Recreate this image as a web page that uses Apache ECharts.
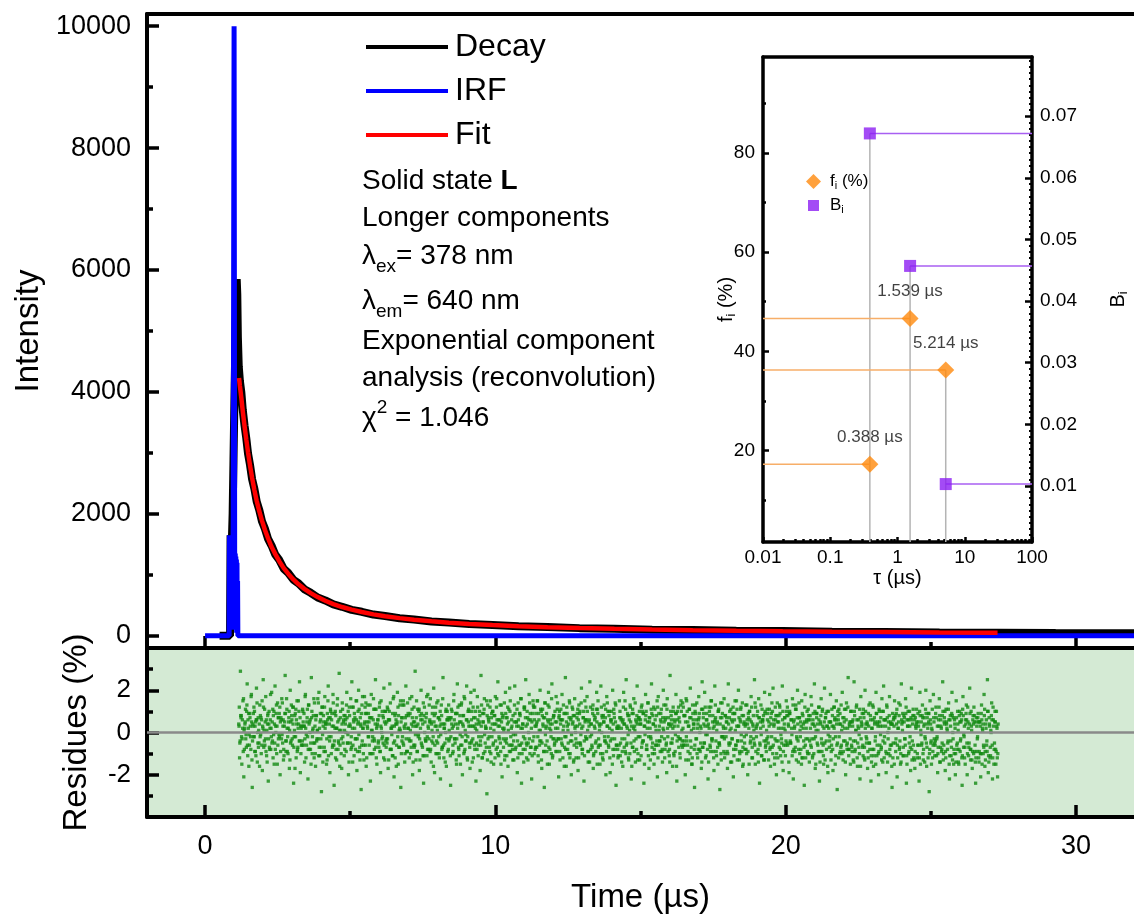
<!DOCTYPE html>
<html><head><meta charset="utf-8">
<script src="https://cdn.jsdelivr.net/npm/echarts@6/dist/echarts.min.js"></script>
<style>html,body{margin:0;padding:0;background:#fff}#c{width:1134px;height:917px}</style>
</head><body><div id="c"></div>
<script>
const FONT = 'Liberation Sans, Arial, Helvetica, sans-serif';

// ---------- main panel data ----------
const xMajorTicks = [0, 10, 20, 30];
const xMinorTicks = [5, 15, 25];
const intensityTicks = [0, 2000, 4000, 6000, 8000, 10000];
const intensityMinorTicks = [1000, 3000, 5000, 7000, 9000];
const residueTicks = [-2, 0, 2];
const residueMinorTicks = [-3, -1, 1, 3];

const irfTime  = [0, 0.83, 0.84, 0.85, 0.86, 0.87, 0.88, 0.89, 0.9, 0.91, 0.92, 0.93, 0.94, 0.95, 0.96, 0.97, 0.98, 0.99, 1.0, 1.01, 1.02, 1.03, 1.04, 1.05, 1.06, 1.07, 1.08, 1.09, 1.1, 1.11, 1.12, 1.13, 1.14, 32.5];
const irfValue = [0, 0, 1650, 200, 1600, 100, 1450, 300, 1500, 150, 1400, 250, 1450, 100, 1400, 2000, 4500, 7500, 10000, 6000, 1400, 200, 1350, 150, 1300, 100, 1250, 50, 1200, 100, 900, 0, 0, 0];

const decayTime  = [0.5, 0.86, 0.88, 0.9, 0.92, 0.95, 0.98, 1.02, 1.06, 1.09, 1.11, 1.13, 1.16, 1.2, 1.25, 1.3, 1.36, 1.42, 1.48, 1.55, 1.62, 1.7, 1.78, 1.87, 1.96, 2.06, 2.17, 2.29, 2.42, 2.56, 2.71, 2.87, 3.04, 3.22, 3.42, 3.64, 3.88, 4.14, 4.42, 4.72, 5.05, 5.4, 5.8, 6.2, 6.7, 7.2, 7.8, 8.4, 9.1, 9.9, 10.8, 11.8, 12.9, 14.1, 15.4, 16.8, 18.3, 19.9, 21.6, 23.4, 25.3, 27.3, 29.3, 31.3, 32.5];
const decayValue = [0, 0, 1650, 900, 1500, 2000, 2900, 4100, 5200, 5850, 5600, 4900, 4420, 4180, 3990, 3700, 3450, 3240, 2990, 2800, 2570, 2410, 2200, 2060, 1880, 1760, 1590, 1480, 1330, 1240, 1100, 1030, 920, 860, 765, 705, 628, 580, 515, 476, 426, 394, 348, 324, 288, 266, 234, 218, 193, 178, 156, 144, 126, 116, 101, 94, 82, 77, 67, 63, 55, 52, 46, 44, 41];

const fitTime  = [1.17, 1.2, 1.25, 1.3, 1.36, 1.42, 1.48, 1.55, 1.62, 1.7, 1.78, 1.87, 1.96, 2.06, 2.17, 2.29, 2.42, 2.56, 2.71, 2.87, 3.04, 3.22, 3.42, 3.64, 3.88, 4.14, 4.42, 4.72, 5.05, 5.4, 5.8, 6.2, 6.7, 7.2, 7.8, 8.4, 9.1, 9.9, 10.8, 11.8, 12.9, 14.1, 15.4, 16.8, 18.3, 19.9, 21.6, 23.4, 25.3, 27.3];
const fitValue = [4230, 4100, 3900, 3680, 3440, 3220, 3010, 2790, 2590, 2390, 2210, 2040, 1890, 1740, 1600, 1460, 1340, 1220, 1110, 1015, 925, 845, 770, 700, 635, 575, 520, 472, 430, 390, 352, 320, 290, 262, 237, 215, 195, 176, 158, 142, 127, 114, 102, 92, 83, 75, 68, 62, 56, 51];

// weighted residues: three interleaved channel sets spanning the fitted range
const residueStart = 1.16;
const residueEnd = 27.3;
const residuesA = [
0.4,-1.2,2.9,0.8,-0.3,1.5,-2.1,0.2,1.1,-0.7,2.3,0.6,-1.6,0.9,-0.2,1.8,-2.6,0.3,1.2,-0.9,0.5,2.1,-1.4,0.7,-0.5,
1.3,-0.1,0.6,-1.8,2.5,0.1,-0.6,1.7,-1.1,0.4,-2.3,1.0,0.2,-0.8,1.9,-0.4,0.8,-1.5,2.2,0.0,-1.0,1.4,-0.3,0.9,-2.0,
0.7,1.6,-0.5,-1.3,0.3,2.7,-0.9,1.1,-0.2,0.5,-1.7,2.0,-0.4,0.6,1.2,-2.4,0.1,0.9,-1.2,1.5,-0.7,0.4,2.4,-1.9,0.2,
-0.6,1.0,0.3,-1.4,1.8,-0.1,0.7,-2.2,1.3,0.5,-0.8,2.6,-1.0,0.2,1.6,-0.5,-1.6,0.8,0.1,-0.3,1.9,-1.1,0.6,-2.8,1.2,
0.3,-0.9,1.7,0.4,-1.5,0.9,2.2,-0.2,-1.9,1.0,0.6,-0.7,1.4,-2.5,0.2,0.8,-1.3,1.6,-0.4,2.8,-0.6,0.1,-1.7,1.1,0.5,
-1.1,0.8,0.0,1.9,-0.5,-2.0,1.2,0.3,-0.8,2.4,-1.4,0.6,0.9,-0.3,1.5,-1.8,0.4,2.0,-0.9,0.7,-2.7,1.3,0.2,-0.6,1.7,
0.9,-1.6,0.5,1.3,-0.2,0.7,-2.3,1.8,0.1,-1.0,1.1,-0.4,2.5,-1.2,0.3,0.6,-0.7,1.4,-1.9,0.2,1.0,-0.5,2.1,-1.3,0.4,
-0.3,1.2,-1.7,0.6,2.3,-0.8,0.2,-1.1,1.6,-2.1,0.8,0.4,-0.6,1.9,-1.5,0.1,1.3,-2.6,0.7,-0.2,1.5,0.3,-1.0,2.2,-0.9,
1.4,0.2,-1.2,0.9,-0.4,1.7,-2.0,0.5,-0.7,2.9,-1.3,0.3,1.1,-0.1,-1.8,0.8,2.0,-0.6,0.4,-2.4,1.2,-0.3,0.7,-1.1,1.8,
-0.8,0.5,1.6,-1.4,0.1,-0.5,2.1,-1.9,0.9,0.3,-1.0,1.5,-0.2,0.6,-2.2,1.3,-0.7,2.6,-1.2,0.4,0.0,-1.6,1.0,0.7,-0.4,
0.6,-2.5,1.1,0.2,-0.9,1.8,-0.3,0.9,-1.5,2.3,0.4,-1.1,0.8,-0.6,1.4,-2.0,0.3,1.7,-0.8,-0.1,2.2,-1.3,0.5,1.0,-1.7,
1.9,-0.4,0.3,-1.2,2.0,0.7,-2.3,0.1,1.2,-0.6,0.5,-1.8,2.7,-0.2,0.9,-1.0,1.6,-0.5,0.2,-2.9,1.3,0.6,-0.7,1.5,-1.4,
-0.2,1.0,-1.5,0.4,1.7,-0.8,0.6,2.4,-1.1,0.3,-0.5,1.3,-2.1,0.8,0.1,-1.3,1.9,-0.3,0.7,-1.6,1.1,2.1,-0.9,0.2,-0.6,
0.8,-1.3,2.2,-0.1,0.5,-1.9,1.4,-0.6,0.9,1.6,-2.4,0.2,-0.8,1.2,-0.3,2.5,-1.2,0.4,-0.5,1.8,-1.0,0.6,-2.2,0.9,1.3,
-1.0,0.3,0.9,-0.7,1.5,-1.4,0.1,2.0,-0.4,-1.7,1.1,0.7,-2.6,1.4,0.2,-0.9,0.6,1.9,-1.5,0.4,-0.2,2.3,-1.1,0.8,-0.6,
0.5,1.7,-0.9,0.2,-2.1,1.0,0.6,-0.3,1.8,-1.2,0.3,-0.7,2.6,-1.6,0.9,0.1,-1.0,1.4,-0.4,-2.0,1.2,0.5,-1.3,1.6,0.0,
-0.5,0.9,-1.8,1.3,0.4,-0.6,2.1,-1.0,0.7,-2.3,1.5,-0.2,0.6,1.0,-1.4,0.3,2.4,-0.8,-0.1,1.1,-1.7,0.8,0.2,-0.9,1.9,
1.1,-0.7,0.4,-1.5,2.2,0.0,-1.2,0.8,1.3,-0.4,-2.0,1.7,0.3,-0.6,1.0,-1.9,0.5,-0.3,2.0,-1.1,0.7,1.4,-2.5,0.2,-0.8,
0.2,1.5,-1.1,0.6,-0.3,-1.6,1.9,0.4,-0.9,2.5,-0.5,0.8,-1.3,0.1,1.2,-2.2,0.9,-0.7,1.6,0.3,-1.4,0.5,2.2,-1.0,0.6,
-1.3,0.6,1.2,-0.5,0.9,-2.4,0.3,1.8,-0.8,0.2,1.4,-1.7,0.7,-0.2,2.3,-1.0,0.4,-1.5,1.1,-0.6,0.8,-2.1,1.7,0.1,-0.4,
0.9,-0.2,-1.4,2.0,0.5,-0.8,1.3,-1.9,0.2,0.7,-1.1,2.7,-0.5,0.4,-1.6,1.0,0.3,-0.9,1.8,-2.3,0.6,1.2,-0.3,-1.2,1.5,
0.1,1.4,-0.6,0.8,-2.0,1.6,-0.4,0.5,-1.3,1.1,2.1,-0.7,-1.5,0.9,0.2,-2.6,1.3,0.6,-1.0,0.4,1.7,-0.8,0.3,-1.7,2.4,
-0.7,0.4,1.9,-1.2,0.6,-0.1,-2.2,1.2,0.8,-0.9,1.5,-0.3,0.2,-1.8,2.2,0.7,-1.1,0.5,1.0,-0.5,-2.7,1.4,-0.2,0.9,0.3,
1.6,-1.0,0.2,0.7,-1.7,2.3,-0.6,0.1,1.1,-1.4,0.5,-2.1,0.9,1.5,-0.8,0.3,-0.4,2.0,-1.3,0.6,1.2,-0.9,-1.6,0.8,-0.2,
0.3,-0.8,1.3,-2.0,0.7,1.0,-0.5,1.7,-1.2,0.4,-0.3,2.5,-1.5,0.2,0.8,-1.0,1.6,-2.4,0.5,-0.1,1.1,0.6,-1.3,1.9,-0.7,
-0.9,1.1,-0.2,0.5,1.8,-1.6,0.9,-0.7,2.1,0.3,-1.2,0.6,-2.0,1.4,-0.4,0.8,1.2,-1.1,-0.3,2.2,-1.8,0.2,0.7,-0.6,1.0,
1.2,0.4,-1.9,0.9,-0.5,0.2,1.6,-2.2,0.6,-0.9,1.3,-0.2,2.0,-1.4,0.7,0.1,-0.8,1.5,-1.2,0.4,-2.5,1.8,-0.3,0.5,-1.0,
0.6,-1.4,0.8,1.7,-0.3,-1.1,0.4,2.3,-1.7,0.1,0.9,-0.6,1.2,-2.3,0.5,1.6,-0.9,0.3,-1.5,2.1,0.7,-0.4,1.0,-1.9,0.2,
-0.4,1.8,-0.9,0.3,-1.8,1.2,0.6,-0.2,1.5,-2.7,0.8,1.1,-1.0,0.4,-0.6,1.9,-1.3,0.7,0.2,-2.0,1.4,-0.5,2.6,-0.8,0.5,
1.0,-0.6,0.5,-1.3,2.4,-0.9,0.1,1.3,-1.6,0.6,-0.1,-2.2,1.7,0.3,-0.7,1.1,-1.2,2.0,0.4,-0.3,-1.7,0.9,-0.5,1.4,-2.3,
0.2,1.3,-1.6,0.7,-0.4,1.9,-1.1,0.5,-2.0,1.0,0.3,-0.8,1.6,-1.4,2.2,-0.2,0.6,-1.9,1.2,0.0,-1.0,1.7,-0.6,0.4,-2.6,
-1.2,0.7,1.5,-0.5,0.9,-2.1,0.2,1.4,-0.7,-1.5,2.3,0.5,-1.1,0.8,-0.3,1.6,-2.4,0.6,1.0,-0.9,0.3,-1.8,2.1,-0.4,1.1,
0.8,-1.7,0.3,1.1,-1.0,0.5,-2.3,1.9,0.1,-0.6,1.3,-1.3,0.7,-0.2,2.0,-1.6,0.4,0.9,-2.8,1.5,-0.5,0.2,-1.2,1.8,-0.3,
-0.6,1.2,-0.3,-1.9,0.6,1.6,-1.4,0.3,-0.8,2.4,-1.0,0.7,-1.8,1.1,0.2,-0.5,1.4,-2.2,0.8,-1.1,1.9,0.0,-1.5,0.6,-2.0,
1.5,-0.8,0.4,-1.5,1.0,-0.4,0.9,-2.5,1.7,-0.1,-1.2,0.6,1.3,-2.0,0.5,-0.7,2.1,-1.3,0.3,-1.7,0.8,1.2,-0.9,-2.4,0.7,
-0.3,0.9,-1.4,0.5,-2.1,1.3,0.2,-1.0,1.8,-1.6,0.4,-0.6,2.5,-1.9,0.7,-1.2,0.1,1.4,-2.2,0.6,-0.8,1.0,-1.5,0.3,-2.1
];
const residuesB = [
0.3,-0.5,0.8,-0.2,0.6,-0.9,0.1,0.4,-0.3,1.0,-0.6,0.2,-0.1,0.7,-0.8,0.5,-0.4,0.9,-0.2,0.3,-1.1,0.6,0.0,-0.7,0.4,
-0.2,0.7,-0.6,0.3,1.2,-0.4,0.5,-0.9,0.1,0.8,-0.3,-0.7,0.6,0.2,-0.5,1.1,-0.1,0.4,-0.8,0.9,0.3,-0.6,0.7,-0.2,0.5,
0.6,-0.1,0.3,-0.8,0.5,0.9,-0.4,0.2,-1.0,0.7,0.1,-0.5,1.3,-0.3,0.4,-0.7,0.8,-0.2,0.6,-0.9,0.2,1.0,-0.4,0.3,-0.6,
-0.4,0.5,0.9,-0.3,0.2,-0.6,1.1,-0.8,0.4,0.0,-0.5,0.7,-0.2,0.8,-1.2,0.3,0.6,-0.4,0.1,1.4,-0.7,0.5,-0.3,0.9,-0.1,
0.8,-0.7,0.2,0.5,-0.3,0.6,-1.1,0.4,0.7,-0.2,0.9,-0.6,0.3,-0.4,1.0,-0.8,0.2,0.5,-0.5,0.1,0.7,-1.0,0.4,-0.2,0.6,
0.1,0.4,-0.9,0.7,-0.1,0.3,0.8,-0.5,-0.2,1.2,-0.6,0.5,0.2,-0.8,0.6,-0.3,1.0,-0.1,-0.7,0.4,0.9,-0.4,0.2,-1.3,0.5,
-0.6,0.9,0.3,-0.2,0.5,-1.0,0.7,0.1,-0.4,0.6,-0.3,1.1,-0.7,0.2,0.4,-0.5,0.8,-0.9,0.3,0.0,-0.2,0.7,-0.6,1.0,-0.4,
0.5,-0.3,0.6,1.0,-0.8,0.2,-0.1,0.9,-0.5,0.3,-1.2,0.6,0.4,-0.2,0.8,-0.7,0.1,0.5,-0.4,1.3,-0.6,0.2,0.7,-0.3,-0.9,
0.2,0.8,-0.4,0.1,-0.7,1.1,0.3,-0.6,0.5,-0.1,0.7,-0.9,0.4,1.0,-0.3,0.2,-0.5,0.6,-1.1,0.8,0.0,-0.4,0.9,-0.2,0.3,
-0.3,0.6,-0.8,0.4,0.9,-0.2,0.5,-0.6,1.2,-0.4,0.1,0.7,-1.0,0.3,-0.1,0.8,-0.7,0.4,0.2,-0.5,1.0,-0.3,0.6,-0.8,0.1,
0.7,-0.2,0.4,-1.0,0.3,0.6,-0.5,0.9,-0.3,0.2,-0.7,1.3,-0.1,0.5,-0.6,0.4,0.8,-0.9,0.1,-0.4,0.6,-0.2,1.1,-0.5,0.3,
-0.5,1.0,-0.3,0.7,-0.6,0.2,0.4,-0.8,0.6,-0.2,1.0,-0.4,0.3,-1.2,0.5,0.9,-0.1,0.3,-0.7,0.8,-0.3,0.5,-0.9,0.2,0.7,
0.4,-0.6,0.1,0.8,-0.4,1.2,-0.7,0.3,-0.2,0.6,-0.9,0.5,0.7,-0.3,0.2,-1.1,0.9,-0.5,0.4,0.1,-0.6,1.0,-0.2,0.6,-0.8,
-0.1,0.5,0.9,-0.7,0.3,-0.4,0.6,-1.0,0.8,0.2,-0.5,0.4,-0.2,1.1,-0.8,0.3,-0.6,0.7,0.0,-0.3,0.9,-0.7,0.5,-0.4,1.2,
0.6,-0.8,0.3,0.5,-0.2,0.9,-0.6,0.1,1.0,-0.5,0.4,-0.9,0.7,-0.1,0.3,-0.4,1.3,-0.7,0.2,0.6,-1.0,0.4,-0.3,0.8,-0.5,
0.2,-0.4,1.1,-0.3,0.7,-0.9,0.4,0.6,-0.6,0.1,0.9,-0.2,-0.8,0.5,0.3,-0.5,0.7,-1.2,0.6,-0.1,0.4,0.8,-0.6,0.2,-0.3,
-0.7,0.3,0.6,-0.5,1.0,-0.1,0.2,-0.8,0.7,-0.4,0.5,1.2,-0.3,0.1,-0.9,0.6,-0.2,0.4,-0.6,0.9,-1.1,0.3,0.7,-0.4,0.5,
0.9,-0.3,0.1,-0.6,0.4,0.8,-1.0,0.5,-0.2,0.7,-0.5,0.3,1.0,-0.7,0.2,-0.4,0.6,0.1,-0.8,1.1,-0.3,0.5,-0.6,0.3,-1.2,
0.3,0.7,-0.5,0.2,-0.9,0.6,0.4,-0.3,1.1,-0.6,0.2,-0.1,0.8,-1.0,0.5,0.3,-0.7,0.9,-0.4,0.1,0.6,-0.8,0.4,-0.2,0.7,
-0.2,0.4,-0.7,1.0,-0.4,0.3,-0.1,0.8,-0.6,0.5,-1.1,0.7,0.2,-0.3,0.9,-0.5,0.4,-0.8,0.6,0.1,-0.4,1.2,-0.6,0.3,-0.9,
0.5,-0.9,0.7,0.1,-0.3,0.6,-0.6,1.1,-0.2,0.4,-0.8,0.3,0.8,-0.5,0.2,-1.0,0.6,-0.1,0.9,-0.4,0.3,-0.7,0.5,-0.3,1.0,
-0.4,0.2,0.8,-0.6,0.5,-0.2,1.0,-0.9,0.3,0.7,-0.4,0.1,-1.2,0.6,0.4,-0.6,0.9,-0.3,0.2,-0.8,0.7,0.0,-0.5,1.1,-0.7,
0.7,-0.5,0.3,-0.1,0.9,-0.8,0.4,0.2,-0.6,1.2,-0.3,0.5,-0.9,0.3,0.6,-0.4,0.1,-0.7,1.0,-0.5,0.4,-1.0,0.7,-0.2,0.2,
-0.3,0.8,-0.2,0.5,-1.0,0.4,0.7,-0.5,0.2,-0.3,0.9,-0.8,0.6,0.1,-0.6,1.1,-0.4,0.3,-0.9,0.5,-0.1,0.8,-0.7,0.4,-0.5,
0.4,-0.1,0.6,-0.9,0.2,1.0,-0.4,0.5,-0.7,0.3,0.1,-0.6,1.2,-0.2,0.4,-0.8,0.7,-0.5,0.2,-1.1,0.6,0.3,-0.4,0.9,-0.6,
0.1,0.6,-0.5,0.3,-0.8,0.7,-0.2,1.0,-0.6,0.4,-0.3,0.8,-1.0,0.5,0.2,-0.7,0.9,-0.1,-0.5,0.6,-0.9,0.4,0.1,-0.4,0.8,
-0.6,0.3,0.9,-0.4,0.6,-0.1,-0.9,0.5,0.2,-0.7,1.1,-0.3,0.4,-0.8,0.7,-0.2,0.3,-1.2,0.8,-0.4,0.5,-0.6,0.2,1.0,-0.3,
0.8,-0.4,0.2,-0.7,0.4,0.6,-1.0,0.3,-0.2,0.9,-0.5,0.1,0.6,-0.9,0.4,-0.3,1.0,-0.6,0.2,-0.5,0.7,-0.8,0.3,-0.1,0.5,
-0.2,0.5,-0.6,0.8,-0.3,0.2,0.7,-1.1,0.4,-0.5,0.6,-0.2,0.9,-0.7,0.1,0.3,-0.9,0.5,-0.4,1.1,-0.6,0.2,-0.8,0.4,-0.3,
0.5,-0.7,0.3,-0.4,1.0,-0.8,0.1,0.6,-0.5,0.2,-1.0,0.7,-0.3,0.4,-0.6,0.9,-0.7,0.2,-0.2,0.5,-0.9,0.3,-0.5,0.8,-1.1,
0.2,0.6,-0.8,0.4,-0.2,0.9,-0.6,0.3,-0.9,0.5,-0.1,-0.7,1.0,-0.4,0.6,-0.5,0.3,-1.0,0.7,-0.3,0.2,-0.8,0.5,-0.6,0.4,
-0.5,0.3,0.7,-0.9,0.4,-0.6,0.2,0.8,-0.4,-1.0,0.6,0.1,-0.7,0.5,-0.3,0.9,-1.1,0.3,0.6,-0.5,-0.2,0.7,-0.8,0.4,-0.6,
0.6,-0.9,0.2,0.5,-0.6,0.3,-1.2,0.8,-0.1,-0.5,0.7,-0.8,0.4,-0.3,0.9,-0.7,0.2,0.5,-1.0,0.6,-0.4,0.1,-0.9,0.7,-0.5,
-0.4,0.7,-0.2,-1.0,0.3,0.8,-0.7,0.2,-0.5,1.0,-0.6,0.4,-0.9,0.5,0.1,-0.4,0.6,-1.1,0.3,-0.7,0.8,-0.3,-0.8,0.4,-1.0,
0.7,-0.5,0.1,-0.8,0.5,-0.3,0.6,-1.1,0.8,-0.2,-0.7,0.4,0.6,-1.0,0.2,-0.5,0.9,-0.8,0.1,-0.9,0.4,0.5,-0.6,-1.2,0.3,
-0.2,0.5,-0.9,0.3,-1.0,0.6,0.1,-0.6,0.8,-0.9,0.2,-0.4,1.0,-1.1,0.4,-0.7,0.0,0.6,-1.2,0.3,-0.5,0.5,-0.9,0.2,-1.0
];
const residuesC = [
1.2,-0.4,0.7,-1.5,0.2,1.6,-0.8,0.5,-0.1,1.3,-1.1,0.9,-0.6,0.3,1.7,-1.3,0.4,-0.2,1.0,-0.9,0.6,1.4,-0.5,0.1,-1.6,
0.8,-1.0,1.5,0.2,-0.7,1.1,-0.3,0.6,-1.4,0.9,0.4,-0.8,1.8,-0.2,0.5,-1.2,1.0,-0.5,0.3,1.3,-1.5,0.7,-0.1,1.2,-0.9,
-0.3,1.4,0.6,-1.1,0.9,-0.4,1.6,-0.9,0.2,1.0,-1.3,0.5,0.8,-0.6,1.2,-0.2,-1.7,1.1,0.4,-0.8,1.5,-0.4,0.7,-1.0,0.3,
1.1,-0.6,0.3,1.7,-1.2,0.5,-0.2,1.3,-0.8,0.6,-1.5,1.0,0.1,-0.5,1.4,-1.0,0.8,-0.3,1.6,-1.1,0.2,0.9,-0.7,1.2,-1.4,
0.5,1.2,-0.9,0.4,-1.3,1.5,0.7,-0.4,1.1,-1.0,0.3,1.8,-0.6,0.9,-1.2,0.2,1.3,-0.8,0.6,-1.6,1.0,-0.3,1.4,-0.5,0.8,
-0.8,0.6,1.3,-0.5,1.0,-1.4,0.4,1.6,-0.7,0.2,1.2,-1.1,0.7,-0.3,1.5,-0.9,0.5,1.1,-1.3,0.3,-0.6,1.7,-1.0,0.4,1.2,
1.4,-1.2,0.2,0.9,-0.6,1.3,-1.0,0.7,-0.2,1.6,-0.8,0.4,1.1,-1.5,0.6,-0.4,1.2,-0.9,1.5,-0.3,0.8,-1.2,0.5,1.0,-0.7,
-0.5,1.1,-1.3,0.6,1.4,-0.8,0.3,-1.1,1.7,-0.4,0.9,-1.6,0.5,1.2,-0.7,0.2,1.5,-1.0,0.7,-0.5,1.3,-1.4,0.4,0.8,-0.9,
0.9,-0.3,1.6,-1.0,0.4,0.7,-1.4,1.2,-0.6,0.3,1.5,-0.9,-0.2,1.1,-1.3,0.6,0.9,-0.7,1.4,-1.1,0.5,-0.4,1.7,-0.8,0.2,
1.3,-0.9,0.5,-0.4,1.2,-1.6,0.8,0.3,-1.0,1.4,-0.5,0.7,-1.2,1.0,0.4,-0.8,1.6,-0.6,0.2,-1.4,1.1,0.6,-0.9,1.3,-0.3,
-1.1,0.7,1.0,-0.6,1.5,-0.3,0.4,-1.3,0.9,1.2,-0.8,0.5,-1.5,1.3,-0.2,0.8,-1.0,1.6,-0.4,0.6,-1.2,1.0,0.3,-0.7,1.4,
0.6,-1.4,1.2,0.3,-0.8,1.0,-0.5,1.7,-1.1,0.4,0.8,-0.6,1.3,-1.2,0.5,1.1,-0.9,0.2,1.5,-1.3,0.7,-0.2,1.2,-1.0,0.9,
1.0,-0.5,0.8,-1.2,0.4,1.6,-1.0,0.6,-0.3,1.3,-1.5,0.9,0.2,-0.7,1.4,-0.4,0.7,-1.1,1.2,0.5,-0.9,1.5,-0.6,0.3,-1.3,
-0.4,1.3,-0.8,0.5,1.1,-1.2,0.3,0.9,-0.6,1.6,-1.0,0.4,-1.4,1.2,0.7,-0.5,1.0,-1.3,0.6,1.4,-0.7,0.2,-1.1,1.5,-0.2,
1.2,-0.7,0.4,1.5,-1.1,0.6,-0.4,1.1,-1.3,0.8,0.3,-0.9,1.4,-0.6,0.9,-1.5,0.5,1.2,-0.8,0.1,1.6,-1.2,0.7,-0.3,1.0,
-0.9,0.5,1.4,-0.3,0.8,-1.3,1.1,-0.5,0.6,1.3,-1.6,0.9,-0.2,1.2,-0.8,0.4,1.5,-1.0,0.7,-0.4,1.1,-1.4,0.8,0.3,-1.2,
0.7,1.1,-1.2,0.9,-0.5,1.4,-0.8,0.3,1.0,-1.1,0.6,-0.3,1.7,-0.9,0.5,-1.4,1.2,0.4,-0.7,1.3,-1.0,0.6,-0.5,1.1,-1.5,
1.5,-0.6,0.3,-1.0,1.2,0.7,-1.3,0.5,-0.4,1.1,-0.9,1.4,-0.2,0.8,-1.2,0.6,1.0,-1.5,0.4,0.9,-0.8,1.3,-0.6,0.2,-1.1,
-0.6,1.0,0.7,-1.4,0.5,1.2,-0.7,1.5,-1.0,0.3,0.9,-1.2,0.6,1.3,-0.5,-1.6,1.1,0.2,-0.9,1.4,-0.3,0.8,-1.3,0.7,1.0,
0.4,-1.1,1.3,-0.4,0.9,-1.5,0.6,1.0,-0.8,1.4,-0.2,0.5,-1.3,1.1,-0.7,0.8,1.2,-1.0,0.3,-0.6,1.5,-1.2,0.9,-0.4,0.6,
1.1,-0.8,0.2,1.3,-1.2,0.7,-0.5,1.6,-0.9,0.4,-1.4,1.0,0.6,-0.3,1.2,-1.1,0.5,0.9,-1.6,1.0,-0.2,0.7,-1.0,1.3,-0.6,
-0.7,1.2,-0.4,0.8,-1.3,1.5,-0.6,0.3,1.1,-1.0,0.7,-1.5,1.3,0.4,-0.8,1.0,-0.3,1.4,-1.2,0.6,0.9,-0.9,0.2,-1.4,1.1,
0.9,-0.5,1.2,-1.1,0.6,0.3,-1.4,1.0,-0.7,1.5,-0.4,0.8,-1.2,0.5,1.3,-0.9,0.4,-1.5,1.1,-0.6,0.7,-1.3,1.4,-0.2,-0.9,
-1.2,0.8,0.5,-0.9,1.3,-0.5,1.0,-1.4,0.6,-0.3,1.2,-1.1,0.9,-0.6,1.5,-1.3,0.3,0.7,-1.0,1.1,-0.4,1.4,-1.5,0.5,-0.8,
1.3,-1.0,0.4,0.9,-1.5,0.6,-0.2,1.2,-1.2,0.8,-0.5,1.4,-0.9,0.3,1.0,-1.4,0.7,-0.6,1.3,-1.1,0.5,0.8,-1.3,1.0,-0.4,
-0.3,0.9,-1.3,1.1,-0.7,0.4,1.4,-1.0,0.6,-1.5,1.2,-0.4,0.8,-1.2,0.5,1.3,-0.8,0.2,-1.4,1.0,-0.6,0.7,-1.1,1.5,-0.5,
0.8,-1.4,1.0,-0.5,0.6,-1.1,1.3,-0.8,0.3,1.1,-1.3,0.7,-0.4,1.4,-1.0,0.5,-1.5,0.9,0.2,-0.7,1.2,-1.2,0.6,-0.9,1.1,
-1.0,0.6,-0.6,1.3,-1.2,0.9,-0.3,1.0,-1.5,0.7,0.4,-0.9,1.2,-1.4,0.8,-0.5,1.1,-1.1,0.5,-1.3,0.9,0.3,-1.6,1.0,-0.7,
0.5,-1.3,1.1,-0.8,0.3,1.2,-1.5,0.6,-0.6,1.0,-1.2,0.4,-0.9,1.3,-1.0,0.7,-0.4,1.1,-1.4,0.6,-0.8,1.2,-1.1,0.3,-1.5,
1.0,-0.9,0.6,-1.4,0.8,-0.4,1.2,-1.2,0.3,-0.7,1.1,-1.6,0.5,0.9,-1.1,0.7,-1.3,1.0,-0.5,0.4,-1.2,1.3,-0.8,0.6,-1.4,
-0.8,1.2,-1.1,0.5,-1.5,0.9,0.4,-1.0,1.1,-0.6,0.7,-1.3,0.3,1.0,-1.2,0.6,-0.9,1.3,-1.4,0.5,0.8,-1.1,0.4,-1.6,0.9,
0.6,-1.5,0.8,-0.3,1.1,-1.2,0.5,-0.8,1.3,-1.4,0.4,0.9,-1.1,0.7,-0.6,1.2,-1.5,0.3,-1.0,1.0,-0.7,0.6,-1.3,0.8,-1.2,
-1.3,0.7,0.4,-1.2,0.9,-0.6,1.0,-1.5,0.5,0.8,-1.0,0.3,-1.4,1.1,-0.5,0.7,-1.2,0.9,-0.8,0.4,-1.5,1.1,-0.6,0.5,-1.1,
0.9,-1.1,0.3,-0.7,1.2,-1.4,0.6,-0.9,0.8,-1.3,0.5,1.0,-1.2,0.4,-0.8,1.1,-1.5,0.6,-0.4,0.9,-1.3,0.7,-1.0,0.2,-1.4,
-0.6,1.0,-1.4,0.8,-0.9,0.5,-1.2,1.1,-0.7,0.3,-1.5,0.9,-0.5,1.2,-1.1,0.4,-0.8,1.0,-1.3,0.6,-1.0,0.8,-1.4,0.5,-0.9,
0.7,-1.2,0.5,-1.0,0.9,-1.5,0.4,-0.7,1.1,-1.3,0.6,-0.9,1.0,-1.4,0.3,-1.1,0.8,-0.6,1.2,-1.5,0.5,-0.8,1.0,-1.2,0.4
];

// ---------- inset data ----------
const tauValues = [0.388, 1.539, 5.214];
const tauLabels = ['0.388 µs', '1.539 µs', '5.214 µs'];
const fractionValues = [17.2, 46.6, 36.2];
const amplitudeValues = [0.0672, 0.0457, 0.0103];
const fTicks = [20, 40, 60, 80];
const fMinorTicks = [10, 30, 50, 70, 90];
const bTicks = [0.01, 0.02, 0.03, 0.04, 0.05, 0.06, 0.07];

// ---------- axis ranges ----------
const X_MIN = -2, X_MAX = 32;
const I_MIN = -200, I_MAX = 10200;
const R_MIN = -4, R_MAX = 4;
const T_MIN = 0.01, T_MAX = 100;
const F_MIN = 1.5, F_MAX = 99.4;
const B_MIN = 0.0009, B_MAX = 0.0796;

const zip = (a, b) => a.map((v, i) => [v, b[i]]);
const residueStep = (residueEnd - residueStart) / (residuesA.length - 1);
const residueData = [];
[residuesA, residuesB, residuesC].forEach((set, k) => {
  set.forEach((v, i) => residueData.push([residueStart + (i + k / 3) * residueStep, v]));
});

const bMinorTicks = [];
for (let k = 1; k < 80; k++) { if (k % 10 !== 0) bMinorTicks.push(+(k / 1000).toFixed(3)); }
const tauMinorTicks = [];
[0.01, 0.1, 1, 10].forEach(d => { for (let m = 2; m <= 9; m++) tauMinorTicks.push(+(d * m).toPrecision(3)); });

const black = '#000';
const lbl = { fontFamily: FONT, color: black };

function valueAxis(extra) {
  return Object.assign({
    type: 'value', splitLine: { show: false }, nameMoveOverlap: false,
    axisLine: { show: false, onZero: false }, axisTick: { show: false }, axisLabel: { show: false }
  }, extra);
}
const shownLine = (w) => ({ show: true, onZero: false, lineStyle: { color: black, width: w } });
const ticks = (len, w, values) => ({ show: true, inside: true, length: len, lineStyle: { color: black, width: w }, customValues: values });

const xAxes = [
  valueAxis({ gridIndex: 0, min: X_MIN, max: X_MAX, position: 'bottom', axisLine: shownLine(4), axisTick: ticks(12, 3.5, xMajorTicks) }),
  valueAxis({ gridIndex: 0, min: X_MIN, max: X_MAX, position: 'bottom', axisTick: ticks(6, 3.5, xMinorTicks) }),
  valueAxis({ gridIndex: 0, min: X_MIN, max: X_MAX, position: 'top', axisLine: shownLine(4) }),
  valueAxis({ gridIndex: 1, min: X_MIN, max: X_MAX, position: 'bottom', axisLine: shownLine(4),
    axisTick: ticks(12, 3.5, xMajorTicks),
    axisLabel: { show: true, customValues: xMajorTicks, fontSize: 27, margin: 16, ...lbl },
    name: 'Time (µs)', nameLocation: 'middle', nameGap: 64, nameTextStyle: { fontSize: 33, ...lbl } }),
  valueAxis({ gridIndex: 1, min: X_MIN, max: X_MAX, position: 'bottom', axisTick: ticks(6, 3.5, xMinorTicks) }),
  { type: 'log', logBase: 10, gridIndex: 2, min: T_MIN, max: T_MAX, position: 'bottom', nameMoveOverlap: false,
    splitLine: { show: false }, axisLine: shownLine(3.5),
    axisTick: { show: true, inside: true, length: 5, lineStyle: { color: black, width: 2.5 } },
    axisLabel: { show: true, fontSize: 19, margin: 6, ...lbl, formatter: v => String(+(+v).toPrecision(3)) },
    name: 'τ (µs)', nameLocation: 'middle', nameGap: 26, nameTextStyle: { fontSize: 20, ...lbl } },
  { type: 'log', logBase: 10, gridIndex: 2, min: T_MIN, max: T_MAX, position: 'bottom',
    splitLine: { show: false }, axisLine: { show: false, onZero: false }, axisLabel: { show: false },
    axisTick: ticks(3, 2.5, tauMinorTicks) },
  { type: 'log', logBase: 10, gridIndex: 2, min: T_MIN, max: T_MAX, position: 'top',
    splitLine: { show: false }, axisTick: { show: false }, axisLabel: { show: false }, axisLine: shownLine(3.5) }
];

const subNameRich = { s: { fontSize: 13, fontFamily: FONT, color: black, verticalAlign: 'bottom', padding: [10, 0, 0, 0] } };

const yAxes = [
  valueAxis({ gridIndex: 0, min: I_MIN, max: I_MAX, position: 'left', axisLine: shownLine(4),
    axisTick: ticks(12, 3.5, intensityTicks),
    axisLabel: { show: true, customValues: intensityTicks, fontSize: 27, margin: 16, ...lbl, formatter: v => String(v) },
    name: 'Intensity', nameLocation: 'middle', nameGap: 102, nameRotate: 90, nameTextStyle: { fontSize: 33, ...lbl } }),
  valueAxis({ gridIndex: 0, min: I_MIN, max: I_MAX, position: 'left', axisTick: ticks(6, 3.5, intensityMinorTicks) }),
  valueAxis({ gridIndex: 1, min: R_MIN, max: R_MAX, position: 'left', axisLine: shownLine(4),
    axisTick: ticks(12, 3.5, residueTicks),
    axisLabel: { show: true, customValues: residueTicks, fontSize: 26, margin: 16, ...lbl },
    name: 'Residues (%)', nameLocation: 'middle', nameGap: 54, nameRotate: 90, nameTextStyle: { fontSize: 33, ...lbl } }),
  valueAxis({ gridIndex: 1, min: R_MIN, max: R_MAX, position: 'left', axisTick: ticks(6, 3.5, residueMinorTicks) }),
  valueAxis({ gridIndex: 2, min: F_MIN, max: F_MAX, position: 'left', axisLine: shownLine(3.5),
    axisTick: ticks(6, 2.5, fTicks),
    axisLabel: { show: true, customValues: fTicks, fontSize: 19, margin: 8, ...lbl },
    name: 'f{s|i} (%)', nameLocation: 'middle', nameGap: 25, nameRotate: 90,
    nameTextStyle: { fontSize: 20, ...lbl, rich: subNameRich } }),
  valueAxis({ gridIndex: 2, min: F_MIN, max: F_MAX, position: 'left', axisTick: ticks(3, 2.5, fMinorTicks) }),
  valueAxis({ gridIndex: 2, min: B_MIN, max: B_MAX, position: 'right', axisLine: shownLine(3.5),
    axisTick: ticks(7, 2.5, bTicks),
    axisLabel: { show: true, customValues: bTicks, fontSize: 19, margin: 8, ...lbl, formatter: v => (+v).toFixed(2) },
    name: 'B{s|i}', nameLocation: 'middle', nameGap: 75, nameRotate: 90,
    nameTextStyle: { fontSize: 20, ...lbl, rich: subNameRich } }),
  valueAxis({ gridIndex: 2, min: B_MIN, max: B_MAX, position: 'right', axisTick: ticks(3, 2, bMinorTicks) })
];

// inset guide lines built from the inset data
const insetLines = [];
tauValues.forEach((tau, i) => {
  const f = fractionValues[i], b = amplitudeValues[i];
  insetLines.push({ type: 'line', xAxisIndex: 5, yAxisIndex: 4, data: [[T_MIN, f], [tau, f]],
    symbol: 'none', silent: true, z: 3, lineStyle: { color: '#f7ae68', width: 1.5 } });
  insetLines.push({ type: 'line', xAxisIndex: 5, yAxisIndex: 6, data: [[tau, b], [T_MAX, b]],
    symbol: 'none', silent: true, z: 3, lineStyle: { color: '#a85ff2', width: 1.5 } });
  const nf = (f - F_MIN) / (F_MAX - F_MIN), nb = (b - B_MIN) / (B_MAX - B_MIN);
  if (nb >= nf) {
    insetLines.push({ type: 'line', xAxisIndex: 5, yAxisIndex: 6, data: [[tau, b], [tau, B_MIN]],
      symbol: 'none', silent: true, z: 2, lineStyle: { color: '#b4b4b4', width: 1.5 } });
  } else {
    insetLines.push({ type: 'line', xAxisIndex: 5, yAxisIndex: 4, data: [[tau, f], [tau, F_MIN]],
      symbol: 'none', silent: true, z: 2, lineStyle: { color: '#b4b4b4', width: 1.5 } });
  }
});

const textLine = (y, text, rich) => ({
  type: 'text', x: 362, y: y, z: 50,
  style: { text: text, fontSize: 28, fontFamily: FONT, fill: black, lineHeight: 40,
    verticalAlign: 'middle', rich: rich || {} }
});
const subRich = { s: { fontSize: 19, lineHeight: 19, fontFamily: FONT, fill: black, verticalAlign: 'bottom' } };
const supRich = { p: { fontSize: 19, lineHeight: 19, fontFamily: FONT, fill: black, verticalAlign: 'top' } };
const legendSub = { s: { fontSize: 11, fontFamily: FONT, color: black, verticalAlign: 'bottom', padding: [8, 0, 0, 0] } };

const option = {
  animation: false,
  backgroundColor: '#fff',
  textStyle: { fontFamily: FONT },
  grid: [
    { left: 147, top: 14, width: 997, height: 634 },
    { left: 147, top: 648, width: 997, height: 169, show: true, backgroundColor: '#d4ead4', borderWidth: 0 },
    { left: 763, top: 57, width: 269, height: 485, show: true, backgroundColor: '#fff', borderWidth: 0 }
  ],
  xAxis: xAxes,
  yAxis: yAxes,
  legend: [
    { data: ['Decay', 'IRF', 'Fit'], orient: 'vertical', left: 361, top: 26,
      icon: 'rect', itemWidth: 82, itemHeight: 4, itemGap: 12,
      textStyle: { fontSize: 32, fontFamily: FONT, color: black, padding: [0, 0, 0, 2] } },
    { data: ['fi'], orient: 'vertical', left: 801, top: 168, z: 20, itemWidth: 15, itemHeight: 15,
      formatter: () => 'f{s|i} (%)',
      textStyle: { fontSize: 17, fontFamily: FONT, color: black, padding: [0, 0, 0, 4], rich: legendSub } },
    { data: ['Bi'], orient: 'vertical', left: 803, top: 192, z: 20, itemWidth: 11, itemHeight: 11,
      formatter: () => 'B{s|i}',
      textStyle: { fontSize: 17, fontFamily: FONT, color: black, padding: [0, 0, 0, 6], rich: legendSub } }
  ],
  graphic: [
    textLine(181, 'Solid state {b|L}', { b: { fontSize: 28, fontFamily: FONT, fontWeight: 'bold', fill: black } }),
    textLine(218, 'Longer components'),
    textLine(256, 'λ{s|ex}= 378 nm', subRich),
    textLine(301, 'λ{s|em}= 640 nm', subRich),
    textLine(341, 'Exponential component'),
    textLine(378, 'analysis (reconvolution)'),
    textLine(418, 'χ{p|2} = 1.046', supRich)
  ],
  series: [
    { name: 'Decay', type: 'line', xAxisIndex: 0, yAxisIndex: 0, data: zip(decayTime, decayValue),
      symbol: 'none', z: 2, color: black, lineStyle: { color: black, width: 8 } },
    { name: 'IRF', type: 'line', xAxisIndex: 0, yAxisIndex: 0, data: zip(irfTime, irfValue),
      symbol: 'none', z: 3, color: '#0000ff', lineStyle: { color: '#0000ff', width: 5 } },
    { name: 'Fit', type: 'line', xAxisIndex: 0, yAxisIndex: 0, data: zip(fitTime, fitValue),
      symbol: 'none', z: 4, color: '#ff0000', lineStyle: { color: '#ff0000', width: 4.5 } },
    { name: 'zero', type: 'line', xAxisIndex: 3, yAxisIndex: 2, data: [], z: 1,
      markLine: { silent: true, symbol: 'none', label: { show: false },
        lineStyle: { color: '#8a8a8a', width: 2.5, type: 'solid' }, data: [{ yAxis: 0 }] } },
    { name: 'Residues', type: 'scatter', xAxisIndex: 3, yAxisIndex: 2, data: residueData,
      symbol: 'rect', symbolSize: 3.3, z: 2, large: false, itemStyle: { color: '#128a12' } },
    ...insetLines,
    { name: 'fi', type: 'scatter', xAxisIndex: 5, yAxisIndex: 4, data: zip(tauValues, fractionValues),
      symbol: 'diamond', symbolSize: 17, z: 6, itemStyle: { color: '#ff8a0d' },
      label: { show: true, position: 'top', distance: 10, fontSize: 17, fontFamily: FONT, color: '#111',
        formatter: p => tauLabels[p.dataIndex] } },
    { name: 'Bi', type: 'scatter', xAxisIndex: 5, yAxisIndex: 6, data: zip(tauValues, amplitudeValues),
      symbol: 'rect', symbolSize: 12, z: 6, itemStyle: { color: '#8c1ef2' } }
  ]
};

const chart = echarts.init(document.getElementById('c'), null, { renderer: 'canvas' });
chart.setOption(option);
</script>
</body></html>
